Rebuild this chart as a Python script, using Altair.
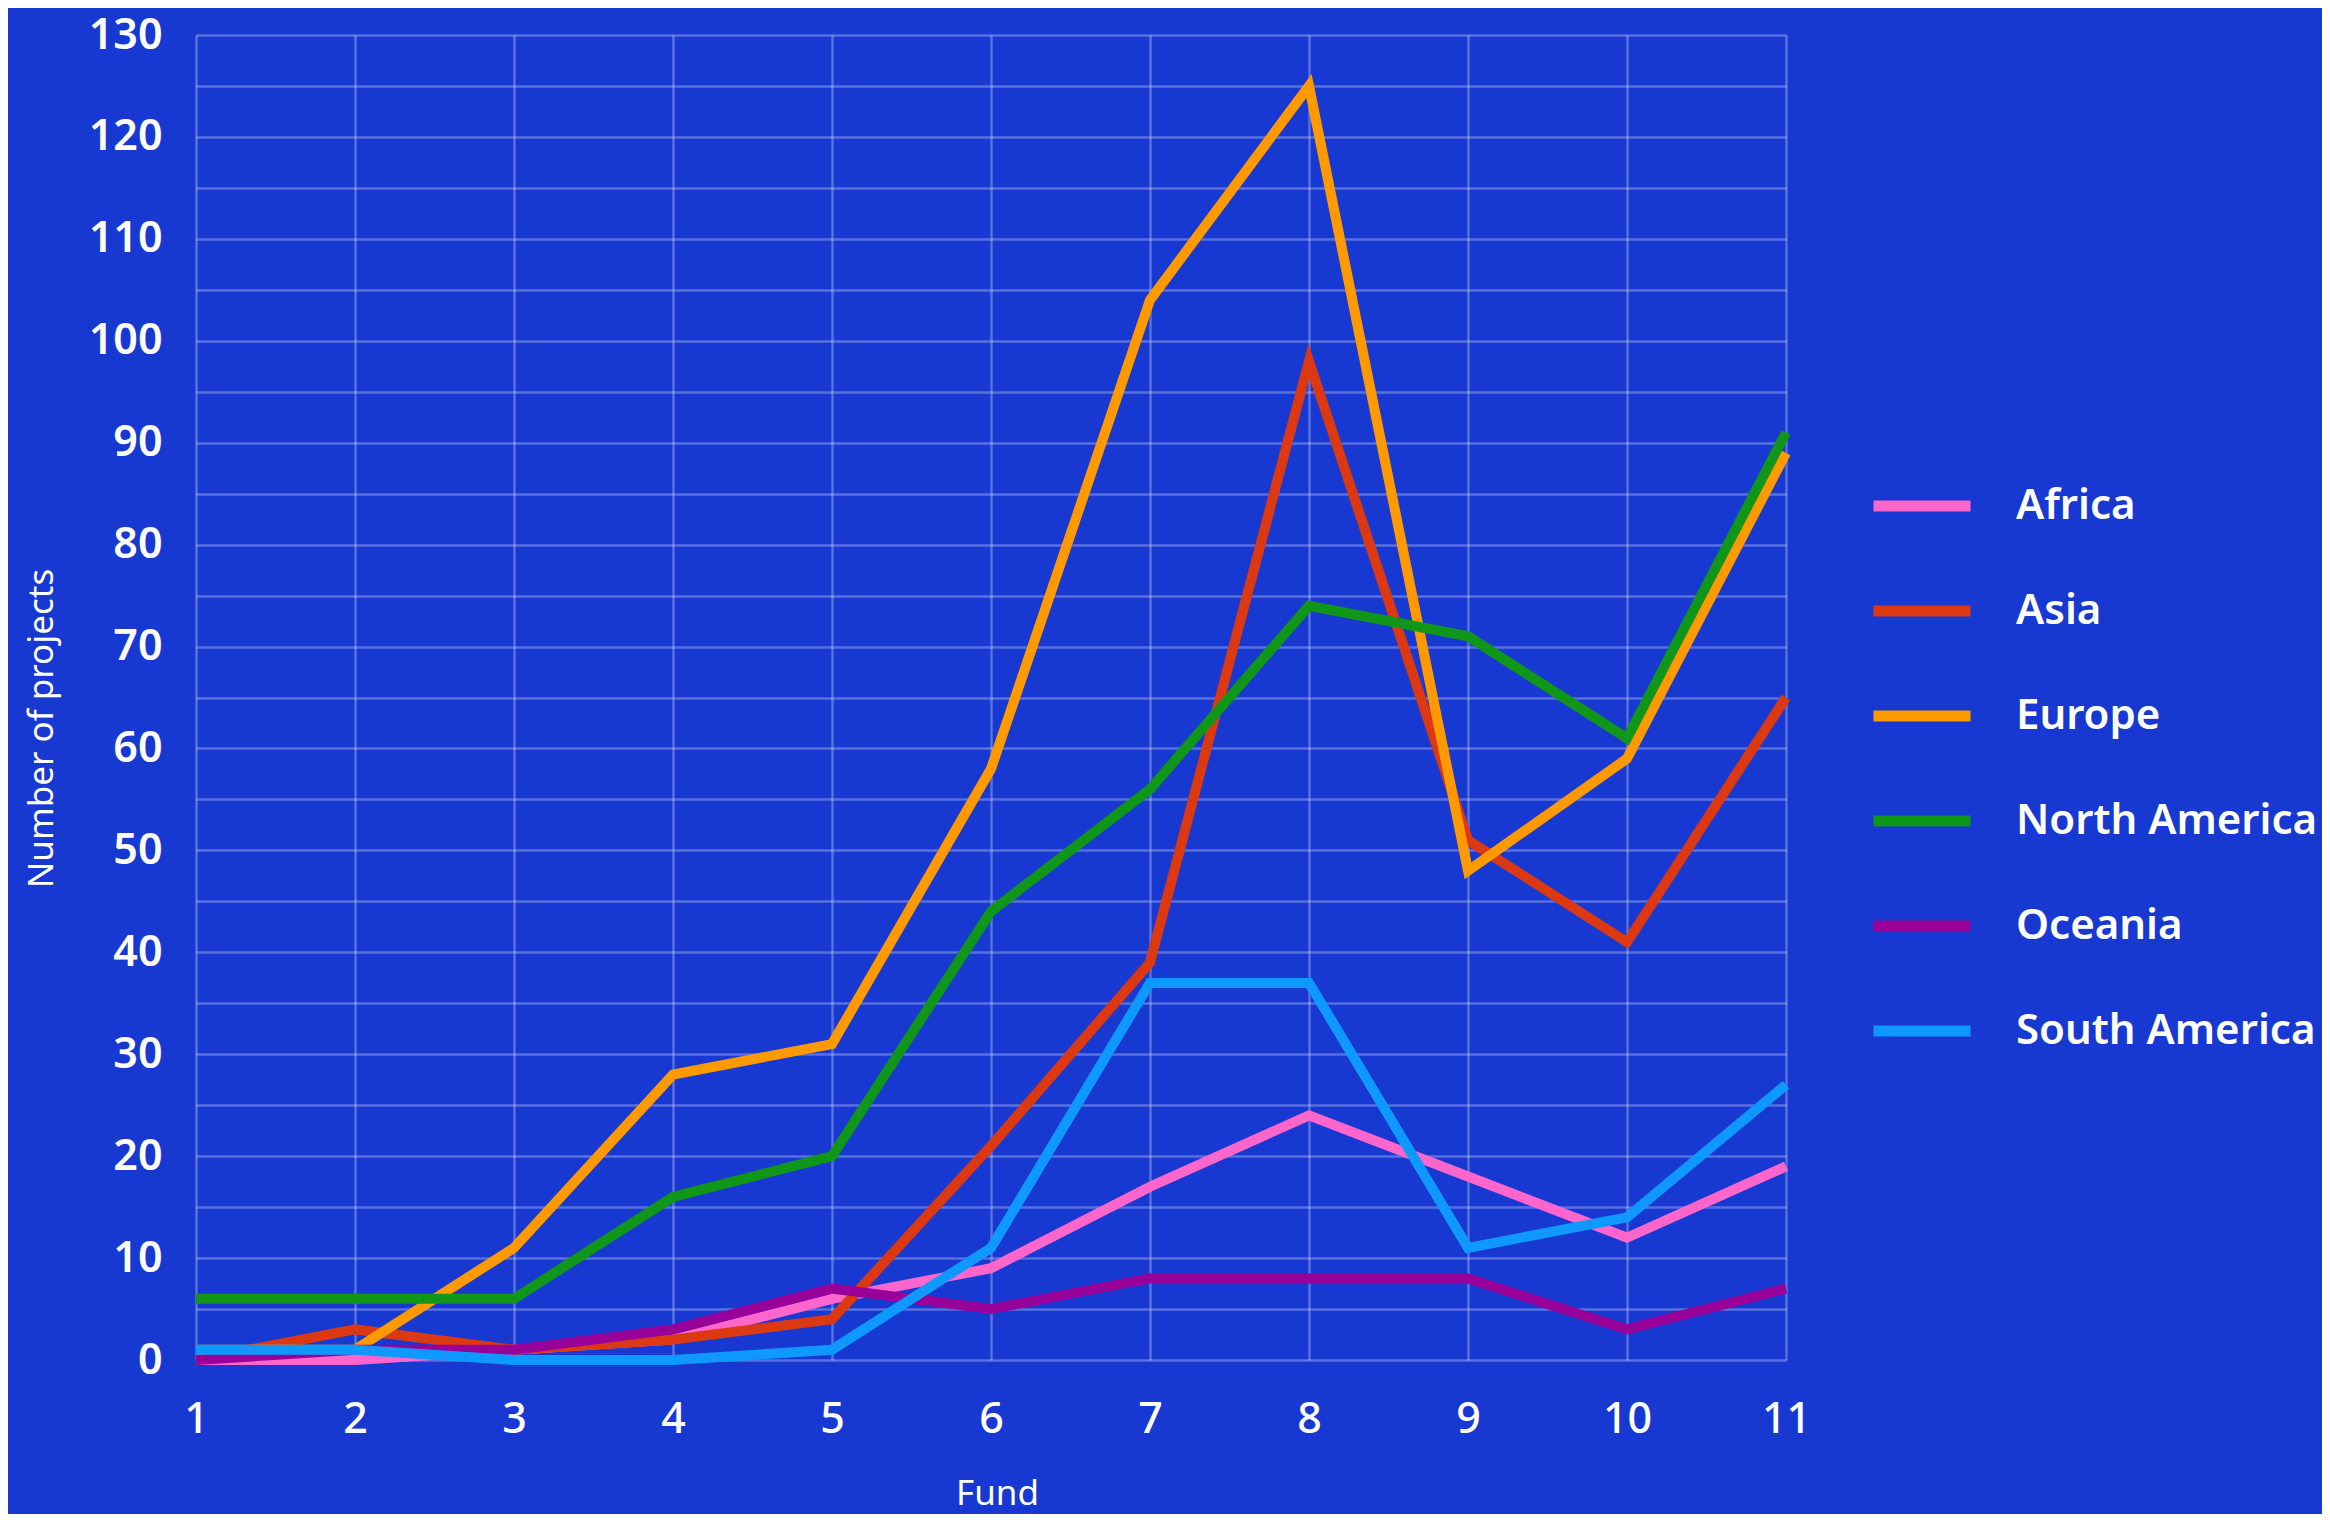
import altair as alt
import pandas as pd

funds = list(range(1, 12))
regions = ["Africa", "Asia", "Europe", "North America", "Oceania", "South America"]
africa = [0, 0, 1, 2, 6, 9, 17, 24, 18, 12, 19]
asia = [0, 3, 1, 2, 4, 21, 39, 98, 51, 41, 65]
europe = [1, 1, 11, 28, 31, 58, 104, 125, 48, 59, 89]
north_america = [6, 6, 6, 16, 20, 44, 56, 74, 71, 61, 91]
oceania = [0, 1, 1, 3, 7, 5, 8, 8, 8, 3, 7]
south_america = [1, 1, 0, 0, 1, 11, 37, 37, 11, 14, 27]
colors = ["#ff66cc", "#dc3912", "#ff9900", "#109618", "#990099", "#0f99ff"]

x_grid_values = [v / 2 for v in range(2, 23)]
y_grid_values = list(range(0, 131, 5))

series = [africa, asia, europe, north_america, oceania, south_america]
rows = []
for name, vals in zip(regions, series):
    for f, v in zip(funds, vals):
        rows.append({"Fund": f, "Region": name, "Projects": v, "order": regions.index(name)})
df = pd.DataFrame(rows)

FONT = "Noto Sans"

chart = alt.Chart(df).mark_line(
    strokeWidth=10, strokeJoin="miter", strokeCap="butt"
).encode(
    x=alt.X(
        "Fund:Q",
        scale=alt.Scale(domain=[1, 11], nice=False, zero=False),
        axis=alt.Axis(
            values=x_grid_values, format="d",
            labelExpr="datum.value % 1 === 0 ? datum.label : ''",
            grid=True, ticks=False, domain=False,
            labelFont=FONT, labelFontSize=43, labelFontWeight=500, labelColor="white",
            labelPadding=38, labelFlush=False, labelOverlap=False,
            title="Fund", titleFont=FONT, titleFontSize=35, titleFontWeight="normal",
            titleColor="white", titleBaseline="alphabetic", titleY=144, titleX=801,
            titleAlign="center",
        ),
    ),
    y=alt.Y(
        "Projects:Q",
        scale=alt.Scale(domain=[0, 130], nice=False),
        axis=alt.Axis(
            values=y_grid_values, format="d",
            labelExpr="datum.value % 10 === 0 ? datum.label : ''",
            grid=True, ticks=False, domain=False,
            labelFont=FONT, labelFontSize=43, labelFontWeight=600, labelColor="white",
            labelPadding=34, labelOverlap=False, labelFlush=False,
            title="Number of projects", titleFont=FONT, titleFontSize=35,
            titleFontWeight="normal", titleColor="white", titleAngle=270,
            titleBaseline="alphabetic", titleAlign="center", titleX=-144, titleY=693,
        ),
    ),
    color=alt.Color(
        "Region:N",
        scale=alt.Scale(domain=regions, range=colors),
        legend=alt.Legend(
            title=None, orient="none", legendX=1672, legendY=417,
            symbolType="stroke", symbolSize=9409, symbolStrokeWidth=11,
            labelFont=FONT, labelFontSize=42, labelFontWeight=600, labelColor="white",
            labelOffset=40, labelLimit=600, rowPadding=29, padding=0,
        ),
    ),
    order="order:Q",
).properties(
    width=1590,
    height=1325,
    autosize=alt.AutoSizeParams(type="none"),
    padding={"left": 188, "top": 27, "right": 536, "bottom": 154},
    background="#1739d1",
).configure_view(
    stroke=None
).configure_axis(
    gridColor="white", gridOpacity=0.28, gridWidth=2.5
)

chart.save("out.html", embed_options={"renderer": "svg", "actions": False})
